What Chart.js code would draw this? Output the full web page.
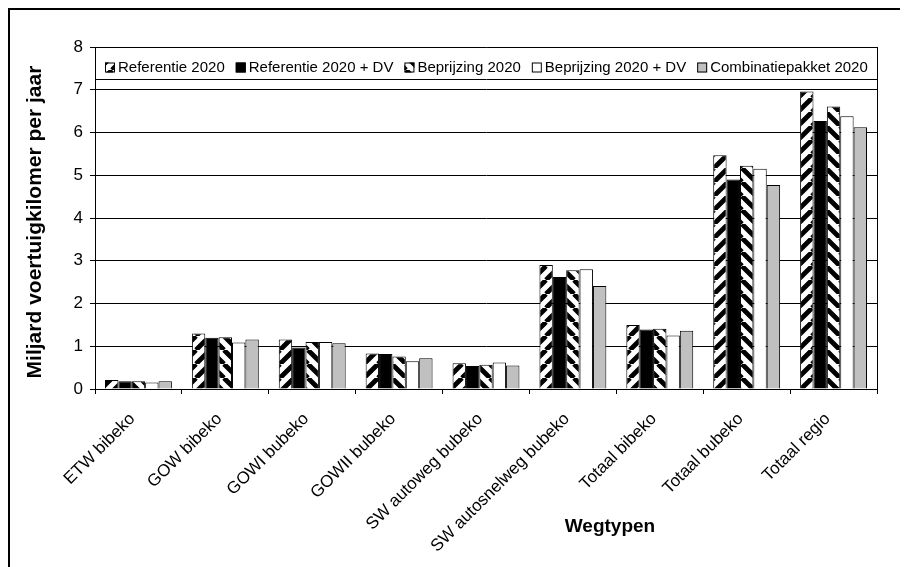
<!DOCTYPE html>
<html>
<head>
<meta charset="utf-8">
<script src="https://cdn.jsdelivr.net/npm/chart.js@4/dist/chart.umd.min.js"></script>
<style>
  html, body { margin: 0; padding: 0; background: #fff; }
  #wrap { width: 905px; height: 567px; }
</style>
</head>
<body>
<div id="wrap"><canvas id="c" width="905" height="567"></canvas></div>
<script>
// Road types on the category axis
const categories = [
  'ETW bibeko', 'GOW bibeko', 'GOWI bubeko', 'GOWII bubeko',
  'SW autoweg bubeko', 'SW autosnelweg bubeko', 'Totaal bibeko',
  'Totaal bubeko', 'Totaal regio'
];

// Scenario names
const seriesNames = [
  'Referentie 2020', 'Referentie 2020 + DV', 'Beprijzing 2020',
  'Beprijzing 2020 + DV', 'Combinatiepakket 2020'
];

// Billion vehicle-kilometres per year, per scenario
const referentie2020   = [0.21, 1.30, 1.16, 0.83, 0.60, 2.90, 1.50, 5.47, 6.96];
const referentie2020DV = [0.18, 1.20, 0.97, 0.82, 0.54, 2.62, 1.39, 4.90, 6.27];
const beprijzing2020   = [0.18, 1.21, 1.10, 0.76, 0.57, 2.78, 1.41, 5.22, 6.61];
const beprijzing2020DV = [0.15, 1.09, 1.10, 0.65, 0.62, 2.80, 1.25, 5.15, 6.38];
const combinatie2020   = [0.18, 1.16, 1.07, 0.72, 0.55, 2.41, 1.36, 4.77, 6.12];

// Value axis
const yMin = 0, yMax = 8, yStep = 1;

const xTitle = 'Wegtypen';
const yTitle = 'Miljard voertuigkilomer per jaar';

const FONT = "'Liberation Sans', Arial, sans-serif";

// Diagonal black/white stripe fill
function stripes(forward) {
  const s = 14;
  const c = document.createElement('canvas');
  c.width = s; c.height = s;
  const g = c.getContext('2d');
  g.fillStyle = '#fff';
  g.fillRect(0, 0, s, s);
  g.strokeStyle = '#000';
  g.lineWidth = 4.8;
  g.beginPath();
  for (let k = -1; k <= 1; k++) {
    if (forward) { g.moveTo(k * s, s); g.lineTo(k * s + s, 0); }
    else { g.moveTo(k * s, 0); g.lineTo(k * s + s, s); }
  }
  g.stroke();
  return g.createPattern(c, 'repeat');
}

const ctx0 = document.getElementById('c').getContext('2d');
const fills = [stripes(true), '#000000', stripes(false), '#ffffff', '#c0c0c0'];
const values = [referentie2020, referentie2020DV, beprijzing2020, beprijzing2020DV, combinatie2020];

const datasets = seriesNames.map((name, i) => ({
  label: name,
  data: values[i],
  backgroundColor: fills[i],
  borderColor: '#000',
  borderWidth: 1,
  categoryPercentage: 0.77,
  barPercentage: 1.0
}));

// Page frame, plot border, legend box and axis titles
const decor = {
  id: 'decor',
  beforeDraw(chart) {
    const c = chart.ctx;
    c.save();
    c.fillStyle = '#fff';
    c.fillRect(0, 0, chart.width, chart.height);
    c.restore();
  },
  afterDraw(chart) {
    const c = chart.ctx;
    const a = chart.chartArea;
    c.save();
    // outer frame
    c.strokeStyle = '#000';
    c.lineWidth = 2;
    c.beginPath();
    c.moveTo(9, chart.height);
    c.lineTo(9, 9);
    c.lineTo(900, 9);
    c.stroke();

    // plot area right edge
    c.lineWidth = 1;
    c.beginPath();
    c.moveTo(Math.round(a.right) + 0.5, a.top);
    c.lineTo(Math.round(a.right) + 0.5, a.bottom);
    c.stroke();

    // legend box
    const lTop = Math.round(a.top) + 0.5, lBot = Math.round(a.top) + 32.5;
    c.fillStyle = '#fff';
    c.fillRect(a.left + 1, lTop, a.right - a.left - 1, lBot - lTop);
    c.beginPath();
    c.rect(Math.round(a.left) + 0.5, lTop, Math.round(a.right) - Math.round(a.left), lBot - lTop);
    c.stroke();

    // legend items
    c.font = '15px ' + FONT;
    c.textBaseline = 'middle';
    c.textAlign = 'left';
    const box = 10, gapBox = 3, gapItem = 11;
    const ds = chart.data.datasets;
    let total = 0;
    const widths = ds.map(d => c.measureText(d.label).width);
    widths.forEach(w => total += box + gapBox + w);
    total += gapItem * (ds.length - 1);
    let x = Math.round((a.left + a.right) / 2 - total / 2);
    const cy = lTop + 20;
    ds.forEach((d, i) => {
      c.fillStyle = d.backgroundColor;
      c.fillRect(x, cy - 5, box, box);
      c.strokeStyle = '#000';
      c.strokeRect(x + 0.5, cy - 4.5, box - 1, box - 1);
      c.fillStyle = '#000';
      c.fillText(d.label, x + box + gapBox, cy);
      x += box + gapBox + widths[i] + gapItem;
    });

    // axis titles
    c.fillStyle = '#000';
    c.textAlign = 'center';
    c.textBaseline = 'middle';
    c.font = 'bold 19px ' + FONT;
    c.fillText(xTitle, 610, 527);
    c.font = 'bold 21px ' + FONT;
    c.translate(35, (a.top + a.bottom) / 2 + 4);
    c.rotate(-Math.PI / 2);
    c.fillText(yTitle, 0, 0);
    c.restore();
  }
};

new Chart(ctx0, {
  type: 'bar',
  data: { labels: categories, datasets },
  options: {
    responsive: false,
    animation: false,
    layout: { padding: { top: 47, right: 28, left: 0, bottom: 0 } },
    plugins: {
      legend: { display: false },
      tooltip: { enabled: false }
    },
    scales: {
      x: {
        afterFit(scale) { scale.height = 178; },
        grid: {
          offset: true,
          drawOnChartArea: false,
          color: '#000',
          tickLength: 5,
          tickColor: '#000'
        },
        border: { color: '#000', width: 1 },
        ticks: {
          color: '#000',
          font: { family: FONT, size: 17 },
          minRotation: 45,
          maxRotation: 45,
          autoSkip: false,
          padding: 15,
          labelOffset: -6
        }
      },
      y: {
        min: yMin,
        max: yMax,
        afterFit(scale) { scale.width = 95; },
        grid: {
          color: '#000',
          tickLength: 5,
          tickColor: '#000'
        },
        border: { color: '#000', width: 1 },
        ticks: {
          stepSize: yStep,
          color: '#000',
          font: { family: FONT, size: 17 },
          padding: 7
        }
      }
    }
  },
  plugins: [decor]
});
</script>
</body>
</html>
